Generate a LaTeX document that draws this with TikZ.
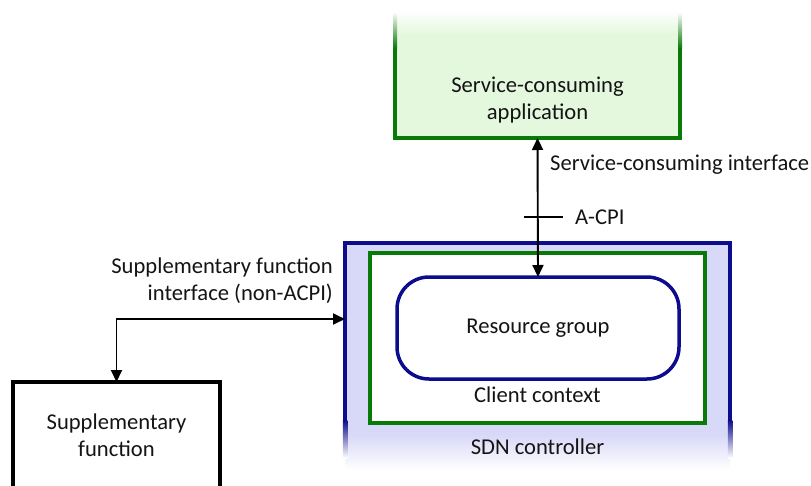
\documentclass[tikz,border=0pt]{standalone}
\usepackage{fontspec}
\setmainfont{Carlito}
\usetikzlibrary{arrows.meta,calc}
\definecolor{appgreen}{RGB}{8,122,8}
\definecolor{appfill}{RGB}{228,248,222}
\definecolor{navy}{RGB}{12,12,140}
\definecolor{sdnfill}{RGB}{216,216,248}
\definecolor{ink}{RGB}{20,20,20}
\begin{document}
\begin{tikzpicture}[x=1pt,y=-1pt,
  txt/.style={font=\fontsize{22.6}{27}\selectfont, align=center, inner sep=0pt, text=ink},
  area/.style={rectangle, inner sep=0pt, outer sep=0pt},
  tip/.tip={Triangle[length=12pt,width=11pt]},
  conn/.style={line width=1.9pt, tip-tip},
]
\useasboundingbox (0,0) rectangle (811,485);
\begin{scope}
\clip (0,0) rectangle (811,485);

% SDN controller: lavender panel fading out at the bottom
\node[area, minimum width=385pt, minimum height=227pt] (sdn) at (537.5,356.5) {};
\fill[sdnfill] (sdn.north west) rectangle ($(sdn.north east)+(0,192)$);
\shade[top color=sdnfill, bottom color=white] ($(sdn.north west)+(0,191.5)$) rectangle (sdn.south east);
\draw[navy, line width=4.5pt, line join=miter] ($(sdn.north west)+(0,177)$) -- (sdn.north west) -- (sdn.north east) -- ($(sdn.north east)+(0,177)$);
\shade[top color=navy, bottom color=white] ($(sdn.north west)+(-2.25,177)$) rectangle ($(sdn.north west)+(2.25,215)$);
\shade[top color=navy, bottom color=white] ($(sdn.north east)+(-2.25,177)$) rectangle ($(sdn.north east)+(2.25,215)$);
\node[txt] (sdnlabel) at (537.5,447) {SDN controller};

% Client context
\node[area, draw=appgreen, fill=white, line width=4.5pt, minimum width=335pt, minimum height=170pt] (client) at (537.5,338) {};
\node[txt] (clientlabel) at (537.5,395) {Client context};

% Resource group
\node[area, draw=navy, fill=white, line width=3.5pt, rounded corners=32pt, minimum width=282pt, minimum height=102pt, txt] (res) at (538,328) {Resource group};

% Service-consuming application: panel fading out at the top
\node[area, minimum width=285pt, minimum height=128pt] (app) at (537.5,74) {};
\fill[appfill] (app.south west) rectangle ($(app.north east)+(0,24)$);
\shade[top color=white, bottom color=appfill] (app.north west) rectangle ($(app.north east)+(0,24.5)$);
\draw[appgreen, line width=4pt, line join=miter] ($(app.north west)+(0,38)$) -- (app.south west) -- (app.south east) -- ($(app.north east)+(0,38)$);
\shade[top color=white, bottom color=appgreen] ($(app.north west)+(-2,2)$) rectangle ($(app.north west)+(2,38.2)$);
\shade[top color=white, bottom color=appgreen] ($(app.north east)+(-2,2)$) rectangle ($(app.north east)+(2,38.2)$);
\node[txt] (apptext) at (537.5,100) {Service-consuming\\application};

% Supplementary function
\node[area, draw=black, line width=4.5pt, minimum width=207pt, minimum height=107pt, txt] (sup) at (116.5,435.5) {Supplementary\\function};

% Connectors
\draw[conn] (app.south) -- (res.north);
\coordinate (tick) at (app.south |- 0,217);
\draw[line width=1.5pt] ([xshift=-14pt]tick) -- ([xshift=25pt]tick);
\coordinate (ifc) at (sdn.west |- 0,319);
\draw[conn] (sup.north) |- (ifc);

% Interface labels
\node[txt, anchor=west] (scilabel) at (550,165) {Service-consuming interface};
\node[txt, anchor=west] (acpilabel) at (575,217) {A-CPI};
\node[txt, align=right, anchor=east] (sfilabel) at (333,281) {Supplementary function\\interface (non-ACPI)};
\end{scope}
\end{tikzpicture}
\end{document}
